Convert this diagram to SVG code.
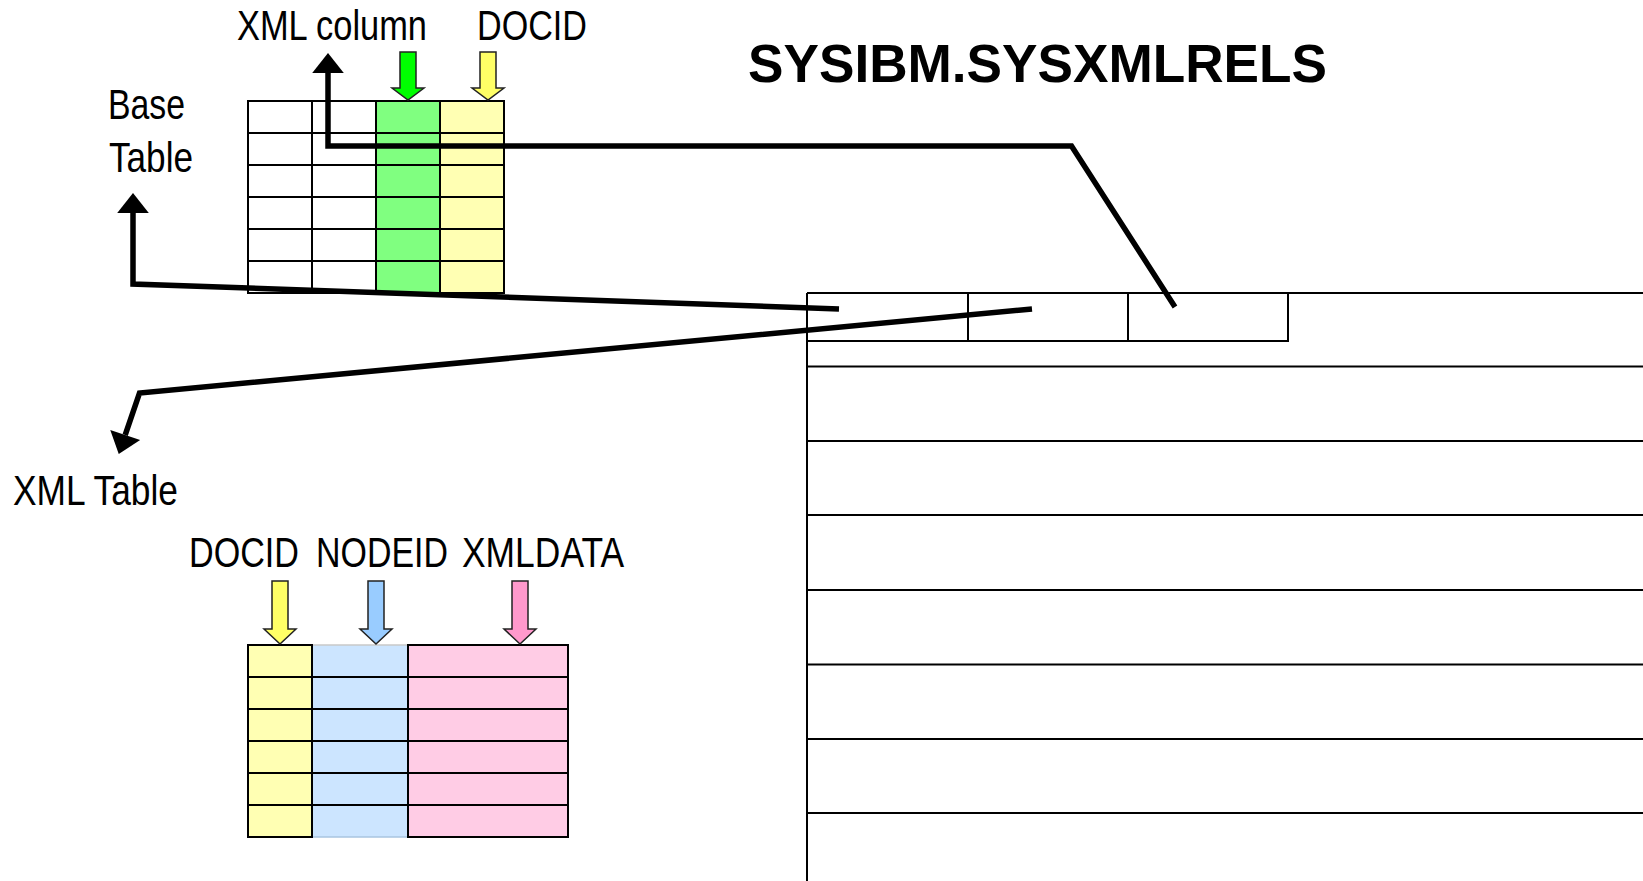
<svg xmlns="http://www.w3.org/2000/svg" width="1643" height="881" viewBox="0 0 1643 881">
  <style>
    .grid { fill: none; stroke: #000; stroke-width: 2; }
    .lbl { font-family: "Liberation Sans", Arial, sans-serif; font-size: 42px; fill: #000; }
    .title { font-family: "Liberation Sans", Arial, sans-serif; font-size: 53px; font-weight: bold; fill: #000; }
    .conn { fill: none; stroke: #000; stroke-width: 5.5; stroke-linejoin: miter; }
    .blk { stroke: #222; stroke-width: 1.5; stroke-linejoin: miter; }
  </style>
  <defs>
    <marker id="head" markerUnits="userSpaceOnUse" markerWidth="20" markerHeight="32" viewBox="0 -15 19 30" refX="0" refY="0" orient="auto" overflow="visible">
      <path d="M0,-15 L19,0 L0,15 Z" fill="#000"/>
    </marker>
    <!-- block arrows pointing down, centred on x=0, tip at y=0 -->
    <path id="blockArrow" d="M-8,-48 H8 V-12 H16 L0,0 L-16,-12 H-8 Z"/>
    <path id="blockArrowLong" d="M-8,-63 H8 V-15 H16 L0,0 L-16,-15 H-8 Z"/>
  </defs>

  <rect width="1643" height="881" fill="#fff"/>

  <!-- title -->
  <text class="title" x="748" y="82" textLength="579" lengthAdjust="spacingAndGlyphs">SYSIBM.SYSXMLRELS</text>

  <!-- base table -->
  <g id="base-table">
    <rect x="376" y="101" width="64" height="192" fill="#80ff80"/>
    <rect x="440" y="101" width="64" height="192" fill="#ffffb3"/>
    <rect class="grid" x="248" y="101" width="256" height="192"/>
    <path class="grid" d="M312,101 V293 M376,101 V293 M440,101 V293 M248,133 H504 M248,165 H504 M248,197 H504 M248,229 H504 M248,261 H504"/>
    <use href="#blockArrow" x="408" y="100" fill="#00ff00" class="blk"/>
    <use href="#blockArrow" x="488" y="100" fill="#ffff66" class="blk"/>
    <text class="lbl" x="237" y="40" textLength="190" lengthAdjust="spacingAndGlyphs">XML column</text>
    <text class="lbl" x="477" y="40" textLength="110" lengthAdjust="spacingAndGlyphs">DOCID</text>
    <text class="lbl" x="108" y="119" textLength="77" lengthAdjust="spacingAndGlyphs">Base</text>
    <text class="lbl" x="109" y="172" textLength="84" lengthAdjust="spacingAndGlyphs">Table</text>
  </g>

  <!-- XML table -->
  <g id="xml-table">
    <rect x="248" y="645" width="64" height="192" fill="#ffffb3"/>
    <rect x="312" y="645" width="96" height="192" fill="#cce5ff"/>
    <rect x="408" y="645" width="160" height="192" fill="#ffcce5"/>
    <path d="M312,645 H408" stroke="#c8c8c8" stroke-width="1.5"/>
    <path d="M312,837 H408" stroke="#a8c4e0" stroke-width="1.5"/>
    <path class="grid" d="M248,645 H312 V837 H248 Z M408,645 H568 V837 H408 Z"/>
    <path class="grid" d="M248,677 H568 M248,709 H568 M248,741 H568 M248,773 H568 M248,805 H568"/>
    <use href="#blockArrowLong" x="280" y="644" fill="#ffff66" class="blk"/>
    <use href="#blockArrowLong" x="376" y="644" fill="#99ccff" class="blk"/>
    <use href="#blockArrowLong" x="520" y="644" fill="#ff99cc" class="blk"/>
    <text class="lbl" x="189" y="567" textLength="110" lengthAdjust="spacingAndGlyphs">DOCID</text>
    <text class="lbl" x="316" y="567" textLength="132" lengthAdjust="spacingAndGlyphs">NODEID</text>
    <text class="lbl" x="462" y="567" textLength="162" lengthAdjust="spacingAndGlyphs">XMLDATA</text>
    <text class="lbl" x="13" y="505" textLength="165" lengthAdjust="spacingAndGlyphs">XML Table</text>
  </g>

  <!-- SYSIBM.SYSXMLRELS catalog table -->
  <g id="sysxmlrels">
    <path class="grid" d="M807,293 H1643 M807,293 V881 M807,341 H1288 V293 M968,293 V341 M1128,293 V341"/>
    <path class="grid" d="M807,366.5 H1643 M807,441 H1643 M807,515 H1643 M807,590 H1643 M807,664.5 H1643 M807,739 H1643 M807,813 H1643"/>
  </g>

  <!-- connectors -->
  <g id="connectors">
    <polyline class="conn" points="839,309 133,284 133,213" marker-end="url(#head)"/>
    <polyline class="conn" points="1175,307 1071.5,146 328,146 328,73" marker-end="url(#head)"/>
    <polyline class="conn" points="1032,309 139.5,393 125.2,435" marker-end="url(#head)"/>
  </g>
</svg>
